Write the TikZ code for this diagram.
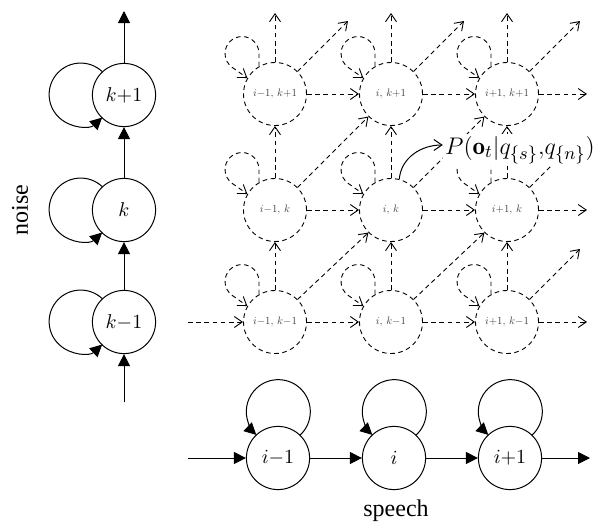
\documentclass[tikz,border=0pt]{standalone}
\usepackage{graphicx}
\usepackage{fontspec}
\newfontfamily\wordfont{Liberation Serif}
\usetikzlibrary{arrows.meta}

\begin{document}
\begin{tikzpicture}[x=0.5pt, y=0.5pt,
  state/.style={circle, draw, line width=0.5pt, minimum size=31.6pt, inner sep=0pt,
                font=\fontsize{10}{12}\selectfont},
  dashpat/.style={line width=0.45pt, dash pattern=on 2.3pt off 1.8pt},
  cell/.style={circle, draw, dashpat, minimum size=31.5pt, inner sep=0pt,
               font=\fontsize{10}{12}\selectfont, text=black!75},
  solidarr/.style={line width=0.5pt, -{Triangle[length=6pt,width=6pt]}},
  cellarr/.style={dashpat, -{Straight Barb[length=4pt,width=5.5pt]}},
  word/.style={font=\wordfont\fontsize{12}{14}\selectfont}
]
\useasboundingbox (0,0) rectangle (606,527);

% ---- noise chain (left column) ----
\node[state] (k0) at (124,205) {$k{-}1$};
\node[state] (k1) at (124,317) {$k$};
\node[state] (k2) at (124,432) {$k{+}1$};
\coordinate (kin) at (124,125);
\coordinate (kout) at (124,516);
\draw[solidarr] (kin) -- (k0);
\draw[solidarr] (k0) -- (k1);
\draw[solidarr] (k1) -- (k2);
\draw[solidarr] (k2) -- (kout);
\foreach \n in {k0,k1,k2}
  \draw[solidarr] (\n.133) arc[start angle=47, end angle=313, radius=15.75pt];
\node[word, rotate=90] (noise) at (20,317) {noise};

% ---- speech chain (bottom row) ----
\node[state] (s0) at (278,69) {$i{-}1$};
\node[state] (s1) at (394,69) {$i$};
\node[state] (s2) at (510,69) {$i{+}1$};
\coordinate (sin) at (188,69);
\coordinate (sout) at (590,69);
\draw[solidarr] (sin) -- (s0);
\draw[solidarr] (s0) -- (s1);
\draw[solidarr] (s1) -- (s2);
\draw[solidarr] (s2) -- (sout);
\foreach \n in {s0,s1,s2}
  \draw[solidarr] (\n.46.6) arc[start angle=-46.6, end angle=226.6, radius=16pt];
\node[word] (speech) at (396,16) {speech};

% ---- product state grid ----
\foreach \c/\x/\il in {0/275/i{-}1, 1/391/i, 2/507/i{+}1}
  \foreach \r/\y/\kl in {0/205/k{-}1, 1/317/k, 2/433/k{+}1}
    \node[cell] (g\c\r) at (\x,\y) {\scalebox{0.54}{$\il,\,\kl$}};

% open ends of the grid
\coordinate (right0) at (587,205);
\coordinate (right1) at (587,317);
\coordinate (right2) at (587,433);
\coordinate (up0) at (275,514);
\coordinate (up1) at (391,514);
\coordinate (up2) at (507,514);
\coordinate (dR0) at (580,278);
\coordinate (dR1) at (580,390);
\coordinate (dR2) at (580,506);
\coordinate (dU0) at (348,506);
\coordinate (dU1) at (464,506);
\coordinate (gin) at (188,205);

\draw[cellarr] (gin) -- (g00);
\foreach \c in {0,1,2}
  \foreach \r in {0,1,2} {
    \pgfmathtruncatemacro\nc{\c+1}
    \pgfmathtruncatemacro\nr{\r+1}
    % self transition: small circle above left of the state
    \draw[cellarr] (g\c\r.120) -- ++(0pt,6.4pt)
      arc[start angle=0, end angle=235, radius=8.5pt] -- (g\c\r.150);
    \ifnum\c<2
      \draw[cellarr] (g\c\r) -- (g\nc\r);
    \else
      \draw[cellarr] (g\c\r) -- (right\r);
    \fi
    \ifnum\r<2
      \draw[cellarr] (g\c\r) -- (g\c\nr);
    \else
      \draw[cellarr] (g\c\r) -- (up\c);
    \fi
    \ifnum\c<2
      \ifnum\r<2
        \draw[cellarr] (g\c\r.45) -- (g\nc\nr.225);
      \else
        \draw[cellarr] (g\c\r.45) -- (dU\c);
      \fi
    \else
      \draw[cellarr] (g\c\r.45) -- (dR\r);
    \fi
  }

% ---- observation probability ----
\node[fill=white, inner sep=1pt, font=\fontsize{12.5}{15}\selectfont] (obs) at (520,377)
  {$P(\mathbf{o}_t|q_{\{s\}}{,}q_{\{n\}})$};
\draw[line width=0.5pt, -{Straight Barb[length=4pt,width=5.5pt]}]
  (g11.75) to[out=85, in=180] ([yshift=2.5pt]obs.west);
\end{tikzpicture}
\end{document}
